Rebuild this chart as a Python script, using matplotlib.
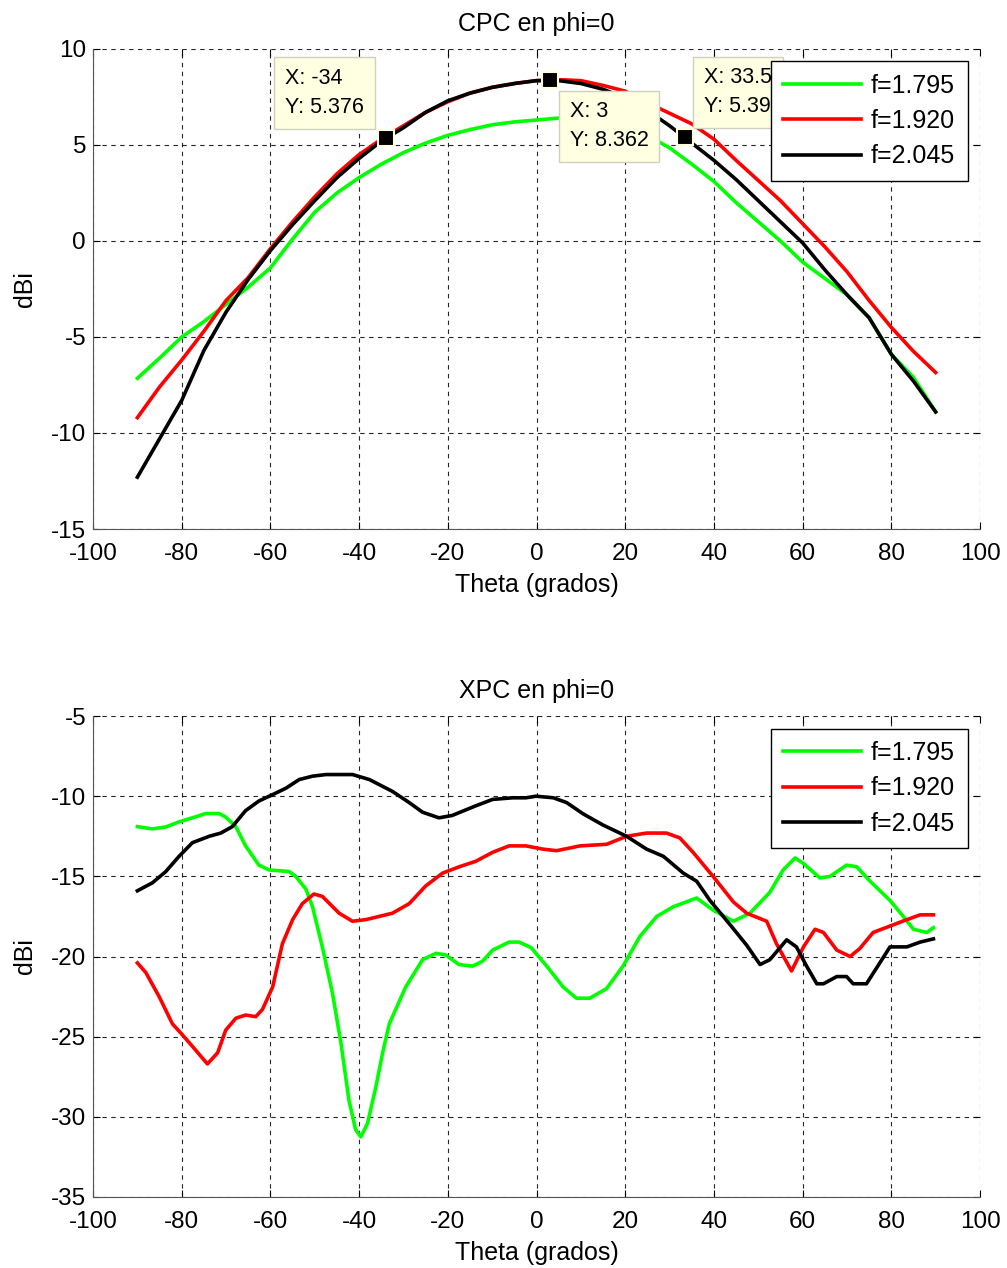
import matplotlib
matplotlib.use("Agg")
import matplotlib.pyplot as plt
import numpy as np

plt.rcParams["font.family"] = ["Liberation Sans", "DejaVu Sans"]
plt.rcParams["axes.unicode_minus"] = False

# ---- CPC (co-polar) en phi=0, theta cada 5 grados ----
theta_cpc = np.arange(-90, 91, 5)
cpc_1795 = [-7.15, -6.1, -5.0, -4.2, -3.3, -2.4, -1.4, 0.1, 1.5, 2.5, 3.3, 4.0, 4.6, 5.1, 5.5, 5.8, 6.05, 6.2, 6.3,
            6.4, 6.35, 6.15, 5.9, 5.5, 4.85, 4.0, 3.1, 2.0, 1.0, 0.0, -1.1, -1.95, -2.8, -4.0, -5.9, -7.1, -8.9]
cpc_1920 = [-9.2, -7.6, -6.2, -4.7, -3.1, -1.9, -0.4, 1.0, 2.3, 3.5, 4.5, 5.3, 6.0, 6.7, 7.25, 7.7, 8.0, 8.2, 8.35,
            8.4, 8.35, 8.1, 7.8, 7.2, 6.65, 6.1, 5.3, 4.2, 3.15, 2.1, 0.9, -0.3, -1.6, -3.1, -4.5, -5.75, -6.85]
cpc_2045 = [-12.3, -10.3, -8.3, -5.7, -3.7, -2.0, -0.5, 0.85, 2.1, 3.3, 4.3, 5.2, 5.9, 6.7, 7.3, 7.7, 8.0, 8.2, 8.35,
            8.35, 8.2, 7.9, 7.45, 6.8, 6.0, 5.1, 4.2, 3.2, 2.1, 1.0, -0.1, -1.5, -2.8, -4.0, -5.9, -7.3, -8.9]

# data tips (sobre f=2.045)
tip_x = [-34, 3, 33.5]
tip_y = [5.376, 8.362, 5.39]
tip_text = ["X: -34\nY: 5.376", "X: 3\nY: 8.362", "X: 33.5\nY: 5.39"]

# ---- XPC (cross-polar) en phi=0 ----
xpc_1795_x = [-90, -86.6, -83.6, -80.6, -77.6, -74.6, -71.6, -70.1, -67.8, -65.6, -62.6, -60.3, -55.8, -54.3, -52.0,
              -50.5, -48.3, -46.0, -44.1, -42.3, -40.8, -39.6, -38.1, -36.2, -34.7, -33.2, -29.5, -25.7, -22.7, -20.5,
              -17.5, -14.4, -12.2, -9.9, -6.2, -3.9, -1.2, 2.3, 6.0, 9.0, 12.0, 15.8, 19.5, 23.3, 27.1, 30.8, 36.1,
              39.8, 44.4, 48.1, 52.6, 55.6, 58.3, 60.2, 63.9, 66.2, 69.9, 72.2, 75.2, 79.7, 82.7, 85.0, 88.0, 89.5]
xpc_1795 = [-11.9, -12.04, -11.92, -11.6, -11.35, -11.08, -11.08, -11.3, -11.9, -13.1, -14.3, -14.6, -14.7, -15.0, -15.8,
            -16.9, -19.4, -22.3, -25.4, -28.96, -30.8, -31.25, -30.4, -28.1, -26.0, -24.2, -21.9, -20.2, -19.8, -19.9,
            -20.5, -20.6, -20.3, -19.6, -19.1, -19.1, -19.45, -20.6, -21.9, -22.6, -22.6, -22.0, -20.6, -18.75, -17.5,
            -16.9, -16.35, -17.1, -17.8, -17.3, -16.0, -14.6, -13.85, -14.2, -15.1, -15.0, -14.3, -14.4, -15.3, -16.5,
            -17.5, -18.3, -18.5, -18.2]

xpc_1920_x = [-90, -88.1, -85.1, -82.1, -79.8, -77.6, -75.3, -74.2, -71.9, -70.1, -67.8, -65.6, -63.3, -61.8, -59.5,
              -57.3, -55.0, -52.8, -50.2, -48.3, -44.5, -41.5, -38.5, -32.5, -28.7, -25.0, -21.2, -17.4, -13.7, -9.9,
              -6.2, -2.4, 1.4, 4.5, 9.8, 15.8, 20.3, 24.8, 29.3, 32.3, 35.3, 39.8, 44.4, 47.4, 51.9, 54.1, 57.5, 60.2,
              62.8, 64.7, 67.7, 70.7, 72.9, 75.9, 79.7, 83.5, 86.5, 89.5]
xpc_1920 = [-20.4, -21.0, -22.5, -24.2, -24.9, -25.6, -26.35, -26.7, -26.0, -24.6, -23.85, -23.65, -23.75, -23.3, -21.9,
            -19.2, -17.7, -16.7, -16.1, -16.25, -17.3, -17.8, -17.7, -17.3, -16.7, -15.6, -14.8, -14.4, -14.06, -13.5,
            -13.1, -13.1, -13.3, -13.4, -13.1, -13.0, -12.5, -12.3, -12.3, -12.6, -13.5, -15.0, -16.6, -17.3, -17.8,
            -19.2, -20.9, -19.4, -18.3, -18.5, -19.6, -20.0, -19.5, -18.5, -18.1, -17.7, -17.4, -17.4]

xpc_2045_x = [-90, -86.6, -83.6, -80.6, -77.6, -73.8, -71.2, -68.6, -65.6, -62.6, -59.5, -56.5, -53.5, -50.5, -47.5,
              -41.5, -37.7, -32.5, -28.7, -25.7, -22.0, -19.0, -13.7, -9.9, -5.4, -2.4, -0.1, 3.8, 6.8, 10.5, 15.0,
              20.3, 24.8, 28.6, 33.1, 36.1, 39.1, 43.6, 47.4, 50.4, 52.6, 56.4, 58.6, 60.9, 63.2, 64.7, 67.7, 69.9,
              71.4, 74.4, 77.4, 79.7, 83.5, 86.5, 89.5]
xpc_2045 = [-15.9, -15.4, -14.7, -13.75, -12.9, -12.5, -12.3, -11.9, -10.9, -10.3, -9.9, -9.5, -8.96, -8.75, -8.65,
            -8.65, -8.96, -9.7, -10.4, -11.0, -11.35, -11.2, -10.6, -10.2, -10.1, -10.1, -10.0, -10.1, -10.4, -11.1,
            -11.8, -12.5, -13.3, -13.75, -14.8, -15.3, -16.5, -18.0, -19.3, -20.5, -20.2, -18.96, -19.4, -20.6, -21.7,
            -21.7, -21.25, -21.25, -21.7, -21.7, -20.4, -19.4, -19.4, -19.1, -18.9]

labels = ["f=1.795", "f=1.920", "f=2.045"]
colors = ["#00ff00", "#ff0000", "#000000"]

FS = 18
TICK_FS = 17.5
LW = 2.6


def style_axes(ax, title, yticks):
    ax.set_xlim(-100, 100)
    ax.set_xticks(np.arange(-100, 101, 20))
    ax.set_ylim(yticks[0], yticks[-1])
    ax.set_yticks(yticks)
    ax.grid(True, color="black", linestyle=(0, (4, 4)), linewidth=0.8, alpha=0.85)
    ax.tick_params(axis="x", direction="in", length=5, labelsize=TICK_FS, pad=10, top=True)
    ax.tick_params(axis="y", direction="in", length=5, labelsize=TICK_FS, pad=5, right=True)
    ax.spines["top"].set_visible(False)
    ax.spines["right"].set_visible(False)
    for s in ("left", "bottom"):
        ax.spines[s].set_color("#555555")
        ax.spines[s].set_linewidth(0.8)
    ax.set_title(title, fontsize=FS, pad=13)
    ax.set_xlabel("Theta (grados)", fontsize=FS, labelpad=6)
    ax.set_ylabel("dBi", fontsize=FS, labelpad=10)
    leg = ax.legend(loc="upper right", fontsize=FS, handlelength=3.1, labelspacing=0.45,
                    borderaxespad=0.5, fancybox=False, framealpha=1, edgecolor="black",
                    handletextpad=0.4, borderpad=0.5)
    leg.get_frame().set_linewidth(1.0)
    leg.set_zorder(10)


def main():
    fig = plt.figure(figsize=(10.07, 12.68), dpi=100)

    ax1 = fig.add_axes([0.0924, 0.5828, 0.8808, 0.3786])
    for y, c, lab in zip([cpc_1795, cpc_1920, cpc_2045], colors, labels):
        ax1.plot(theta_cpc, y, color=c, linewidth=LW, label=lab)

    offsets = [(-22, 20, "right", "bottom"), (20, -21, "left", "top"), (19, 20, "left", "bottom")]
    for x, y, t, (dx, dy, ha, va) in zip(tip_x, tip_y, tip_text, offsets):
        ax1.plot(x, y, marker="s", markersize=11, color="black", markeredgecolor="#ffffe0",
                 markeredgewidth=1.5, zorder=6)
        ax1.annotate(t, xy=(x, y), xytext=(dx, dy), textcoords="offset pixels", ha=ha, va=va,
                     multialignment="left", fontsize=15.5, linespacing=1.5, zorder=5,
                     bbox=dict(boxstyle="square,pad=0.5", facecolor="#ffffe1", edgecolor="#d0d0c0", linewidth=1))

    style_axes(ax1, "CPC en phi=0", np.arange(-15, 11, 5))

    ax2 = fig.add_axes([0.0924, 0.0560, 0.8808, 0.3793])
    for x, y, c, lab in zip([xpc_1795_x, xpc_1920_x, xpc_2045_x], [xpc_1795, xpc_1920, xpc_2045], colors, labels):
        ax2.plot(x, y, color=c, linewidth=LW, label=lab)
    style_axes(ax2, "XPC en phi=0", np.arange(-35, -4, 5))

    fig.savefig("out.png", dpi=100)
    plt.close(fig)


if __name__ == "__main__":
    main()
